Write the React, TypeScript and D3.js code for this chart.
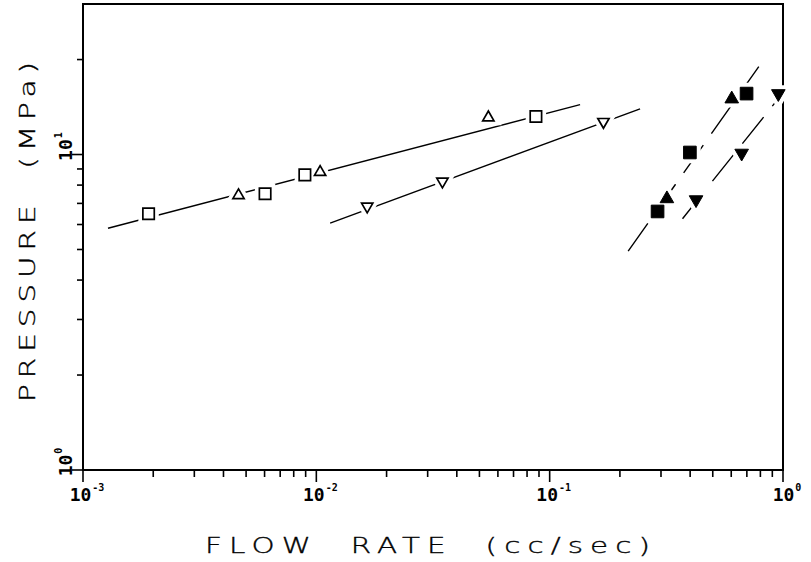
import React, { useEffect, useRef } from 'react';
import * as d3 from 'd3';

const WIDTH = 811;
const HEIGHT = 562;

// open symbols, left group
const FLOW_OPEN_SQUARE = [0.00191, 0.00603, 0.00893, 0.0873];
const PRES_OPEN_SQUARE = [6.49, 7.51, 8.62, 13.2];
const FLOW_OPEN_TRI = [0.00464, 0.01038, 0.0546];
const PRES_OPEN_TRI = [7.42, 8.79, 13.1];
const FLOW_OPEN_INV = [0.01652, 0.0347, 0.17];
const PRES_OPEN_INV = [6.85, 8.22, 12.7];

// filled symbols, right group
const FLOW_FILL_SQUARE = [0.29, 0.399, 0.698];
const PRES_FILL_SQUARE = [6.6, 10.15, 15.6];
const FLOW_FILL_TRI = [0.318, 0.603];
const PRES_FILL_TRI = [7.24, 15.0];
const FLOW_FILL_INV = [0.424, 0.665, 0.955];
const PRES_FILL_INV = [7.19, 10.1, 15.6];

// fitted lines: [start, end] as [flow, pressure]
const FIT_LINES: [number, number][][] = [
  [[0.00128, 5.84], [0.135, 14.4]],
  [[0.01146, 6.06], [0.244, 13.95]],
  [[0.217, 4.94], [0.82, 19.8]],
  [[0.371, 6.26], [1.0, 15.7]],
];
const FIT_DASHED = [false, false, true, true];

const X_MAJOR = [1e-3, 1e-2, 1e-1, 1];
const X_EXP = ['-3', '-2', '-1', '0'];
const Y_MAJOR = [1, 10];
const Y_EXP = ['0', '1'];

const X_TITLE = 'FLOW  RATE  (cc/sec)';
const Y_TITLE = 'PRESSURE  (MPa)';

const App: React.FC = () => {
  const ref = useRef<SVGSVGElement>(null);

  useEffect(() => {
    const svg = d3.select(ref.current);
    svg.selectAll('*').remove();

    const left = 83, right = 783, top = 4, bottom = 470;
    const x = d3.scaleLog().domain([1e-3, 1]).range([left, right]);
    const y = d3.scaleLog().domain([1, 30]).range([bottom, top]);

    // minor ticks
    const xMinor: number[] = [];
    [1e-3, 1e-2, 1e-1].forEach((d) => {
      for (let k = 2; k <= 9; k++) xMinor.push(d * k);
    });
    const yMinor = [2, 3, 4, 5, 6, 7, 8, 9, 20];

    const g = svg.append('g');

    g.selectAll('.xminor')
      .data(xMinor)
      .enter()
      .append('line')
      .attr('x1', (d) => x(d))
      .attr('x2', (d) => x(d))
      .attr('y1', bottom)
      .attr('y2', bottom + 7)
      .attr('stroke', '#000')
      .attr('stroke-width', 1.6);

    g.selectAll('.xmajor')
      .data(X_MAJOR)
      .enter()
      .append('line')
      .attr('x1', (d) => x(d))
      .attr('x2', (d) => x(d))
      .attr('y1', bottom)
      .attr('y2', bottom + 12)
      .attr('stroke', '#000')
      .attr('stroke-width', 1.6);

    g.selectAll('.yminor')
      .data(yMinor)
      .enter()
      .append('line')
      .attr('x1', left - 6)
      .attr('x2', left)
      .attr('y1', (d) => y(d))
      .attr('y2', (d) => y(d))
      .attr('stroke', '#000')
      .attr('stroke-width', 1.6);

    g.selectAll('.ymajor')
      .data(Y_MAJOR)
      .enter()
      .append('line')
      .attr('x1', left - 11)
      .attr('x2', left)
      .attr('y1', (d) => y(d))
      .attr('y2', (d) => y(d))
      .attr('stroke', '#000')
      .attr('stroke-width', 1.6);

    // frame
    g.append('rect')
      .attr('x', left)
      .attr('y', top)
      .attr('width', right - left)
      .attr('height', bottom - top)
      .attr('fill', 'none')
      .attr('stroke', '#000')
      .attr('stroke-width', 2);

    // tick labels
    const labelFont = "'DejaVu Sans Mono', monospace";
    X_MAJOR.forEach((d, i) => {
      const t = g
        .append('text')
        .attr('x', x(d) + 4)
        .attr('y', bottom + 31)
        .attr('text-anchor', 'middle')
        .attr('font-family', labelFont)
        .attr('font-weight', 'bold')
        .attr('font-size', 18)
        .text('10');
      t.append('tspan')
        .attr('dx', 1)
        .attr('dy', -10)
        .attr('font-size', 10)
        .text(X_EXP[i]);
    });

    Y_MAJOR.forEach((d, i) => {
      const t = g
        .append('text')
        .attr('transform', `translate(${left - 11},${y(d) - 8}) rotate(-90)`)
        .attr('text-anchor', 'middle')
        .attr('font-family', labelFont)
        .attr('font-weight', 'bold')
        .attr('font-size', 18)
        .text('10');
      t.append('tspan')
        .attr('dx', 1)
        .attr('dy', -10)
        .attr('font-size', 10)
        .text(Y_EXP[i]);
    });

    // axis titles, stretched to look like plotter lettering
    const titleFont = "'DejaVu Sans', sans-serif";
    const stretch = 1.4;
    g.append('text')
      .attr('transform', `translate(205,553) scale(${stretch},1)`)
      .attr('font-family', titleFont)
      .attr('font-weight', 200)
      .attr('font-size', 21)
      .attr('stroke', '#000')
      .attr('stroke-width', 0.35)
      .attr('textLength', 445 / stretch)
      .attr('lengthAdjust', 'spacing')
      .style('white-space', 'pre')
      .text(X_TITLE);

    g.append('text')
      .attr('transform', `translate(35,402) rotate(-90) scale(${stretch},1)`)
      .attr('font-family', titleFont)
      .attr('font-weight', 200)
      .attr('font-size', 21)
      .attr('stroke', '#000')
      .attr('stroke-width', 0.35)
      .attr('textLength', 340 / stretch)
      .attr('lengthAdjust', 'spacing')
      .style('white-space', 'pre')
      .text(Y_TITLE);

    // fit lines
    const line = d3
      .line<[number, number]>()
      .x((d) => x(d[0]))
      .y((d) => y(d[1]));

    g.selectAll('.fit')
      .data(FIT_LINES)
      .enter()
      .append('path')
      .attr('d', (d) => line(d))
      .attr('fill', 'none')
      .attr('stroke', '#000')
      .attr('stroke-width', 1.4)
      .attr('stroke-dasharray', (_, i) => (FIT_DASHED[i] ? '34,14' : null));

    // markers
    const sq = d3.symbol().type(d3.symbolSquare).size(130)();
    const sqFill = d3.symbol().type(d3.symbolSquare).size(160)();
    const tri = d3.symbol().type(d3.symbolTriangle).size(55)();
    const triFill = d3.symbol().type(d3.symbolTriangle).size(80)();

    const series = [
      { fx: FLOW_OPEN_SQUARE, py: PRES_OPEN_SQUARE, path: sq, rot: 0, filled: false },
      { fx: FLOW_OPEN_TRI, py: PRES_OPEN_TRI, path: tri, rot: 0, filled: false },
      { fx: FLOW_OPEN_INV, py: PRES_OPEN_INV, path: tri, rot: 180, filled: false },
      { fx: FLOW_FILL_SQUARE, py: PRES_FILL_SQUARE, path: sqFill, rot: 0, filled: true },
      { fx: FLOW_FILL_TRI, py: PRES_FILL_TRI, path: triFill, rot: 0, filled: true },
      { fx: FLOW_FILL_INV, py: PRES_FILL_INV, path: triFill, rot: 180, filled: true },
    ];

    // white halos break the lines around each symbol
    series.forEach((s) => {
      s.fx.forEach((f, i) => {
        g.append('path')
          .attr('d', s.path as string)
          .attr('transform', `translate(${x(f)},${y(s.py[i])}) rotate(${s.rot})`)
          .attr('fill', '#fff')
          .attr('stroke', '#fff')
          .attr('stroke-width', 9);
      });
    });

    series.forEach((s) => {
      s.fx.forEach((f, i) => {
        g.append('path')
          .attr('d', s.path as string)
          .attr('transform', `translate(${x(f)},${y(s.py[i])}) rotate(${s.rot})`)
          .attr('fill', s.filled ? '#000' : '#fff')
          .attr('stroke', '#000')
          .attr('stroke-width', s.filled ? 1 : 1.7);
      });
    });
  }, []);

  return (
    <div style={{ position: 'absolute', left: 0, top: 0 }}>
      <svg ref={ref} width={WIDTH} height={HEIGHT} style={{ display: 'block', background: '#fff' }} />
    </div>
  );
};

export default App;
